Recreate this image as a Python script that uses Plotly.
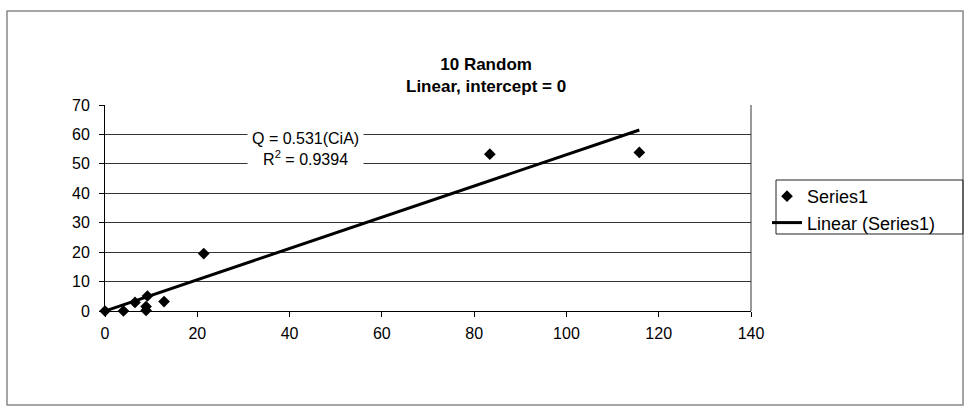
import plotly.graph_objects as go

# data
x_vals = [0, 4, 6.5, 8.9, 8.9, 9.2, 12.8, 21.4, 83.4, 115.8]
y_vals = [0, 0, 2.9, 0.2, 1.5, 5.1, 3.2, 19.5, 53.3, 53.9]
trend_x = [0, 115.8]
trend_y = [0, 61.5]
x_ticks = [0, 20, 40, 60, 80, 100, 120, 140]
y_ticks = [0, 10, 20, 30, 40, 50, 60, 70]
title_lines = ["10 Random", "Linear, intercept = 0"]
eq_text = "Q = 0.531(CiA)"
r2_text = "R<sup>2</sup> = 0.9394"

W, H = 964, 407
L, R, T, B = 105, 751, 105, 311
FONT = "Arial, Liberation Sans, sans-serif"


def px_x(p):
    return (p - L) / (R - L)


def px_y(p):
    return (B - p) / (B - T)


fig = go.Figure()
fig.add_trace(go.Scatter(
    x=x_vals, y=y_vals, mode="markers", name="Series1",
    marker=dict(symbol="diamond", size=9, color="black"),
    cliponaxis=False,
))
fig.add_trace(go.Scatter(
    x=trend_x, y=trend_y, mode="lines", name="Linear (Series1)",
    line=dict(color="black", width=3),
    cliponaxis=False,
))

fig.update_layout(
    width=W, height=H,
    margin=dict(l=L, r=W - R, t=T, b=H - B, autoexpand=False),
    paper_bgcolor="white", plot_bgcolor="white",
    font=dict(family=FONT, size=16, color="black"),
    showlegend=True,
    legend=dict(
        x=px_x(767), y=px_y(178), xanchor="left", yanchor="top",
        bgcolor="rgba(0,0,0,0)", borderwidth=0,
        font=dict(family=FONT, size=18, color="black"),
        itemwidth=30, tracegroupgap=0,
    ),
    xaxis=dict(
        range=[0, 140], tickvals=x_ticks, ticks="outside", ticklen=5,
        tickcolor="black", showline=True, linecolor="black", linewidth=1,
        showgrid=False, zeroline=False,
        tickfont=dict(family=FONT, size=16, color="black"),
        ticklabelstandoff=3,
    ),
    yaxis=dict(
        range=[0, 70], tickvals=y_ticks, ticks="outside", ticklen=5,
        tickcolor="black", showline=True, linecolor="black", linewidth=1,
        showgrid=True, gridcolor="#333333", gridwidth=1, zeroline=False,
        tickfont=dict(family=FONT, size=16, color="black"),
        ticklabelstandoff=6,
    ),
)

# plot area right border (gray)
fig.add_shape(type="line", xref="paper", yref="paper", x0=1, x1=1, y0=0, y1=1,
              line=dict(color="#777777", width=1.5), layer="below")
# chart area border
fig.add_shape(type="rect", xref="paper", yref="paper",
              x0=px_x(7), x1=px_x(963), y0=px_y(405), y1=px_y(11),
              line=dict(color="#888888", width=1.5), layer="below")
# legend box
fig.add_shape(type="rect", xref="paper", yref="paper",
              x0=px_x(776), x1=px_x(963), y0=px_y(234), y1=px_y(180),
              line=dict(color="#222222", width=1), layer="below")

# title
fig.add_annotation(
    text="<b>" + title_lines[0] + "</b><br><b>" + title_lines[1] + "</b>",
    xref="paper", yref="paper", x=px_x(486), y=px_y(75),
    xanchor="center", yanchor="middle", showarrow=False,
    font=dict(family=FONT, size=17, color="black"),
)
# equation label
fig.add_annotation(
    text=eq_text + "<br>" + r2_text,
    xref="x", yref="y", x=43.5, y=55.0, xanchor="center", yanchor="middle",
    showarrow=False, bgcolor="white", borderpad=4,
    font=dict(family=FONT, size=16, color="black"),
)

fig.write_html("out.html")
